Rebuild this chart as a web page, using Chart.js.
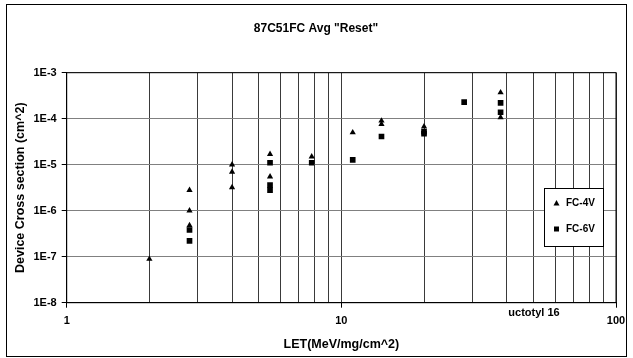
<!DOCTYPE html>
<html>
<head>
<meta charset="utf-8">
<script src="https://cdn.jsdelivr.net/npm/chart.js@4.4.0/dist/chart.umd.min.js"></script>
<style>
  html, body { margin: 0; padding: 0; background: #fff; }
  #wrap { width: 633px; height: 358px; position: relative; }
</style>
</head>
<body>
<div id="wrap"><canvas id="c"></canvas></div>
<script>
// values (LET in MeV/mg/cm^2, cross section in cm^2)
const fc4vLet = [2.0, 2.8, 2.8, 2.8, 4.0, 4.0, 4.0, 5.5, 5.5, 7.8, 11, 14, 14, 20, 38, 38];
const fc4vSigma = [8.9e-8, 2.8e-6, 1.0e-6, 4.8e-7, 1.0e-5, 7.0e-6, 3.2e-6, 1.7e-5, 5.5e-6, 1.5e-5, 5.0e-5, 9.0e-5, 7.6e-5, 6.7e-5, 3.7e-4, 1.07e-4];
const fc6vLet = [2.8, 2.8, 5.5, 5.5, 5.5, 7.8, 11, 14, 20, 20, 28, 38, 38];
const fc6vSigma = [3.8e-7, 2.2e-7, 1.1e-5, 3.6e-6, 2.8e-6, 1.1e-5, 1.27e-5, 4.1e-5, 5.2e-5, 4.7e-5, 2.3e-4, 2.2e-4, 1.38e-4];
const xTicks = [1, 2, 3, 4, 5, 6, 7, 8, 9, 10, 20, 30, 40, 50, 60, 70, 80, 90, 100];
const xLabeled = [1, 10, 100];
const yTicks = [1e-8, 1e-7, 1e-6, 1e-5, 1e-4, 1e-3];
const seriesNames = ['FC-4V', 'FC-6V'];

const FONT = 'Liberation Sans, Arial, sans-serif';
const toPoints = (xs, ys) => xs.map((x, i) => ({ x, y: ys[i] }));

const decor = {
    id: 'decor',
    beforeDraw(chart) {
        const ctx = chart.ctx;
        ctx.save();
        ctx.fillStyle = '#fff';
        ctx.fillRect(0, 0, chart.width, chart.height);
        ctx.restore();
    },
    afterDraw(chart) {
        const ctx = chart.ctx;
        const a = chart.chartArea;
        ctx.save();
        // outer frame
        ctx.strokeStyle = '#000';
        ctx.lineWidth = 1;
        ctx.strokeRect(6.5, 4.5, 620, 352);
        // plot frame
        ctx.strokeRect(a.left, a.top, a.right - a.left, a.bottom - a.top);

        ctx.fillStyle = '#000';
        ctx.textAlign = 'center';
        ctx.textBaseline = 'middle';
        ctx.font = 'bold 12px ' + FONT;
        ctx.fillText('87C51FC Avg "Reset"', 316, 29);

        ctx.font = 'bold 12.5px ' + FONT;
        ctx.fillText('LET(MeV/mg/cm^2)', (a.left + a.right) / 2, 345);

        ctx.save();
        ctx.translate(21, (a.top + a.bottom) / 2);
        ctx.rotate(-Math.PI / 2);
        ctx.fillText('Device Cross section (cm^2)', 0, 0);
        ctx.restore();

        ctx.font = 'bold 11px ' + FONT;
        ctx.fillText('uctotyl 16', 534, 313);

        // legend box
        const lx = 544.5, ly = 188.5, lw = 59, lh = 58;
        ctx.fillStyle = '#fff';
        ctx.fillRect(lx, ly, lw, lh);
        ctx.strokeRect(lx, ly, lw, lh);
        ctx.fillStyle = '#000';
        ctx.beginPath();
        ctx.moveTo(556.5, 200);
        ctx.lineTo(559.5, 205.5);
        ctx.lineTo(553.5, 205.5);
        ctx.closePath();
        ctx.fill();
        ctx.fillRect(554, 226.5, 5, 5);
        ctx.textAlign = 'left';
        ctx.font = 'bold 10px ' + FONT;
        ctx.fillText(seriesNames[0], 566, 203.5);
        ctx.fillText(seriesNames[1], 566, 229.5);
        ctx.restore();
    }
};

new Chart(document.getElementById('c'), {
    type: 'scatter',
    data: {
        datasets: [
            { label: seriesNames[0], data: toPoints(fc4vLet, fc4vSigma), pointStyle: 'triangle', pointRadius: 3.6, backgroundColor: '#000', borderColor: '#000', borderWidth: 0 },
            { label: seriesNames[1], data: toPoints(fc6vLet, fc6vSigma), pointStyle: 'rect', pointRadius: 4, backgroundColor: '#000', borderColor: '#000', borderWidth: 0 }
        ]
    },
    options: {
        responsive: true,
        maintainAspectRatio: false,
        animation: false,
        events: [],
        layout: { padding: { left: 0, right: 17, top: 72.7, bottom: 0 } },
        plugins: { legend: { display: false }, tooltip: { enabled: false }, title: { display: false } },
        scales: {
            x: {
                type: 'logarithmic',
                min: 1, max: 100,
                afterBuildTicks: s => { s.ticks = xTicks.map(v => ({ value: v })); },
                afterFit: s => { s.height = 55.3; },
                grid: {
                    color: '#3a3a3a', lineWidth: 1, tickLength: 5,
                    tickColor: c => xLabeled.includes(c.tick && c.tick.value) ? '#000' : 'rgba(0,0,0,0)'
                },
                border: { display: true, color: '#000' },
                ticks: {
                    autoSkip: false, maxRotation: 0, padding: 7, color: '#000',
                    font: { family: FONT, size: 11, weight: 'bold' },
                    callback: v => xLabeled.includes(v) ? String(v) : ''
                }
            },
            y: {
                type: 'logarithmic',
                min: 1e-8, max: 1e-3,
                afterBuildTicks: s => { s.ticks = yTicks.map(v => ({ value: v })); },
                afterFit: s => { s.width = 66.7; },
                grid: { color: '#808080', lineWidth: 1, tickLength: 5, tickColor: '#000' },
                border: { display: true, color: '#000' },
                ticks: {
                    autoSkip: false, padding: 5, color: '#000',
                    font: { family: FONT, size: 11, weight: 'bold' },
                    callback: v => '1E' + Math.round(Math.log10(v))
                }
            }
        }
    },
    plugins: [decor]
});
</script>
</body>
</html>
